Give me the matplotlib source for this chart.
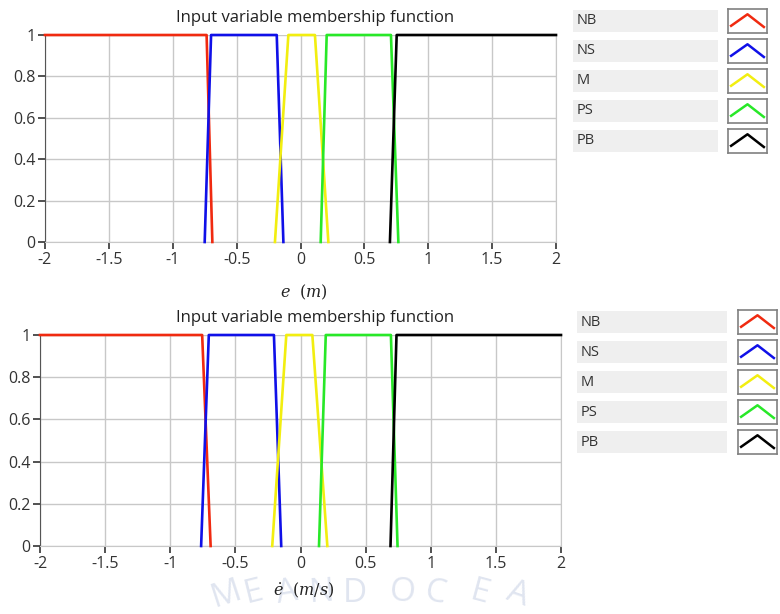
import matplotlib
matplotlib.use('Agg')
import matplotlib.pyplot as plt
from matplotlib.patches import Rectangle

plt.rcParams['font.family'] = ['Open Sans', 'DejaVu Sans']
plt.rcParams['mathtext.fontset'] = 'dejavuserif'

# membership function names and colours
mf_names = ['NB', 'NS', 'M', 'PS', 'PB']
mf_colors = ['#f02a10', '#1010e8', '#f2ee10', '#28e828', '#000000']

# e (m)
e_nb_x = [-2, -0.735, -0.69]
e_nb_y = [1, 1, 0]
e_ns_x = [-0.75, -0.70, -0.186, -0.134]
e_ns_y = [0, 1, 1, 0]
e_m_x = [-0.20, -0.095, 0.113, 0.218]
e_m_y = [0, 1, 1, 0]
e_ps_x = [0.158, 0.205, 0.708, 0.766]
e_ps_y = [0, 1, 1, 0]
e_pb_x = [0.70, 0.753, 2]
e_pb_y = [0, 1, 1]

# e dot (m/s)
de_nb_x = [-2, -0.755, -0.69]
de_nb_y = [1, 1, 0]
de_ns_x = [-0.763, -0.704, -0.204, -0.148]
de_ns_y = [0, 1, 1, 0]
de_m_x = [-0.217, -0.109, 0.091, 0.206]
de_m_y = [0, 1, 1, 0]
de_ps_x = [0.142, 0.194, 0.694, 0.745]
de_ps_y = [0, 1, 1, 0]
de_pb_x = [0.691, 0.737, 2]
de_pb_y = [0, 1, 1]

xticks = [-2, -1.5, -1, -0.5, 0, 0.5, 1, 1.5, 2]
xtick_labels = ['-2', '-1.5', '-1', '-0.5', '0', '0.5', '1', '1.5', '2']
yticks = [0, 0.2, 0.4, 0.6, 0.8, 1]
ytick_labels = ['0', '0.2', '0.4', '0.6', '0.8', '1']

title = 'Input variable membership function'

W, H = 780, 614
fig = plt.figure(figsize=(W / 100, H / 100), dpi=100)
fig.patch.set_facecolor('white')


def px_axes(x0, y0, x1, y1):
    return fig.add_axes([x0 / W, 1 - y1 / H, (x1 - x0) / W, (y1 - y0) / H])


def draw_panel(ax, series, xlabel, title_y, xlabel_y):
    for (xs, ys), c in zip(series, mf_colors):
        ax.plot(xs, ys, color=c, lw=1.9, clip_on=False, zorder=3)
    ax.set_xlim(-2, 2)
    ax.set_ylim(0, 1)
    ax.set_xticks(xticks)
    ax.set_xticklabels(xtick_labels)
    ax.set_yticks(yticks)
    ax.set_yticklabels(ytick_labels)
    ax.grid(True, color='#c8c8c8', lw=1)
    ax.set_axisbelow(True)
    for s in ['top', 'right', 'bottom']:
        ax.spines[s].set_color('#c8c8c8')
    ax.spines['top'].set_visible(False)
    ax.spines['left'].set_color('#555555')
    ax.tick_params(axis='both', colors='#333333', labelsize=11.5, length=5, width=1.2, pad=2)
    pos = ax.get_position()
    fig.text(315 / W, 1 - title_y / H, title, ha='center', va='center', fontsize=12, color='#222222')
    fig.text(pos.x0 + pos.width / 2 + 3 / W, 1 - xlabel_y / H, xlabel, ha='center', va='center',
             fontsize=11.5, color='#222222')


def draw_legend(lab_x0, lab_x1, icon_x0, icon_x1, row_top):
    for i, (name, c) in enumerate(zip(mf_names, mf_colors)):
        y0 = row_top + i * 30
        fig.patches.append(Rectangle((lab_x0 / W, 1 - (y0 + 22) / H), (lab_x1 - lab_x0) / W, 22 / H,
                                     transform=fig.transFigure, facecolor='#efefef', edgecolor='none'))
        fig.text((lab_x0 + 4) / W, 1 - (y0 + 11) / H, name, ha='left', va='center', fontsize=10.5, color='#333333')
        iax = px_axes(icon_x0, y0 - 1, icon_x1, y0 + 23)
        iax.plot([0.08, 0.5, 0.92], [0.3, 0.78, 0.25], color=c, lw=1.8)
        iax.set_xlim(0, 1)
        iax.set_ylim(0, 1)
        iax.set_xticks([])
        iax.set_yticks([])
        for s in iax.spines.values():
            s.set_color('#808080')
            s.set_linewidth(1.2)


ax1 = px_axes(45, 35, 556, 242)
draw_panel(ax1, [(e_nb_x, e_nb_y), (e_ns_x, e_ns_y), (e_m_x, e_m_y), (e_ps_x, e_ps_y), (e_pb_x, e_pb_y)],
           r'$e\ \ (m)$', 18, 292)
draw_legend(573, 718, 728, 767, 10)

ax2 = px_axes(40, 335, 561, 546)
draw_panel(ax2, [(de_nb_x, de_nb_y), (de_ns_x, de_ns_y), (de_m_x, de_m_y), (de_ps_x, de_ps_y), (de_pb_x, de_pb_y)],
           r'$\dot{e}\ \ (m/s)$', 318, 590)
draw_legend(577, 727, 738, 777, 311)

# faint watermark at the bottom
wm_letters = ['M', 'E', 'A', 'N', 'D', 'O', 'C', 'E', 'A']
wm_x = [226, 254, 287, 322, 355, 403, 436, 480, 518]
wm_y = [594, 593, 593, 593, 593, 593, 593, 593, 594]
wm_rot = [18, 14, 9, 4, 0, -5, -10, -15, -19]
for ch, x, y, r in zip(wm_letters, wm_x, wm_y, wm_rot):
    fig.text(x / W, 1 - y / H, ch, ha='center', va='center', fontsize=24, color='#e0e5f0',
             rotation=r, zorder=-1)

fig.savefig('out.png', dpi=100)
